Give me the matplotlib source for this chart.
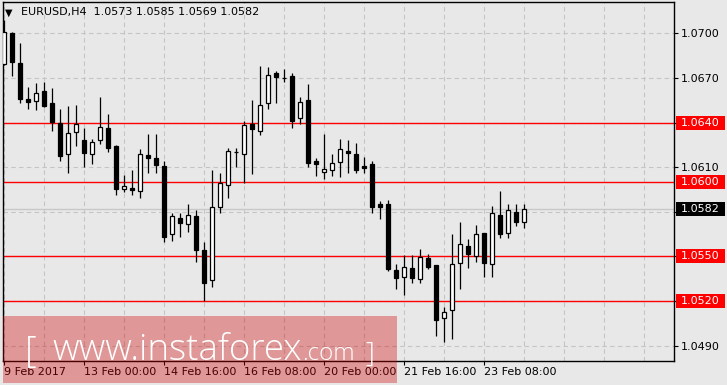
import matplotlib
matplotlib.use("Agg")
import matplotlib.pyplot as plt
from matplotlib.patches import Rectangle
import matplotlib.transforms as mtransforms

# ---------------- data ----------------
opens = [1.06792, 1.07000, 1.06802, 1.06556, 1.06547, 1.06614, 1.06529, 1.06399, 1.06187, 1.06338,
         1.06283, 1.06187, 1.06281, 1.06361, 1.06242, 1.05955, 1.05960, 1.05938, 1.06182, 1.06160,
         1.06106, 1.05649, 1.05758, 1.05716, 1.05770, 1.05543, 1.05340, 1.05834, 1.05978, 1.06200,
         1.06187, 1.06390, 1.06345, 1.06529, 1.06735, 1.06697, 1.06713, 1.06429, 1.06552, 1.06141,
         1.06066, 1.06079, 1.06137, 1.06209, 1.06189, 1.06108, 1.06121, 1.05853, 1.05851, 1.05409,
         1.05364, 1.05420, 1.05346, 1.05487, 1.05440, 1.05088, 1.05138, 1.05458, 1.05568, 1.05505,
         1.05656, 1.05447, 1.05777, 1.05656, 1.05799, 1.05730]
highs = [1.07089, 1.07007, 1.06933, 1.06637, 1.06664, 1.06675, 1.06630, 1.06489, 1.06511, 1.06518,
         1.06361, 1.06290, 1.06574, 1.06457, 1.06250, 1.06047, 1.06081, 1.06220, 1.06323, 1.06323,
         1.06142, 1.05794, 1.05794, 1.05850, 1.05812, 1.05599, 1.06081, 1.06063, 1.06232, 1.06232,
         1.06410, 1.06552, 1.06780, 1.06775, 1.06747, 1.06760, 1.06735, 1.06574, 1.06657, 1.06160,
         1.06323, 1.06189, 1.06290, 1.06283, 1.06263, 1.06168, 1.06142, 1.05873, 1.05879, 1.05450,
         1.05510, 1.05510, 1.05550, 1.05519, 1.05445, 1.05158, 1.05649, 1.05731, 1.05616, 1.05711,
         1.05660, 1.05839, 1.05940, 1.05853, 1.05853, 1.05850]
lows = [1.06787, 1.06715, 1.06529, 1.06493, 1.06484, 1.06502, 1.06345, 1.06144, 1.06063, 1.06244,
        1.06103, 1.06121, 1.06258, 1.06200, 1.05911, 1.05935, 1.05911, 1.05895, 1.06059, 1.06063,
        1.05599, 1.05606, 1.05633, 1.05666, 1.05465, 1.05200, 1.05297, 1.05794, 1.05895, 1.06103,
        1.05992, 1.06057, 1.06316, 1.06489, 1.06529, 1.06675, 1.06361, 1.06388, 1.06103, 1.06043,
        1.06019, 1.06043, 1.06036, 1.06059, 1.06059, 1.06063, 1.05794, 1.05754, 1.05404, 1.05283,
        1.05243, 1.05323, 1.05323, 1.05418, 1.04967, 1.04927, 1.04947, 1.05283, 1.05424, 1.05465,
        1.05364, 1.05364, 1.05627, 1.05627, 1.05707, 1.05690]
closes = [1.07007, 1.06805, 1.06556, 1.06536, 1.06597, 1.06511, 1.06406, 1.06177, 1.06328, 1.06390,
          1.06197, 1.06267, 1.06368, 1.06227, 1.05951, 1.05971, 1.05949, 1.06187, 1.06164, 1.06117,
          1.05633, 1.05770, 1.05727, 1.05777, 1.05545, 1.05324, 1.05830, 1.05992, 1.06207, 1.06200,
          1.06382, 1.06359, 1.06516, 1.06718, 1.06708, 1.06697, 1.06412, 1.06536, 1.06126, 1.06123,
          1.06086, 1.06126, 1.06220, 1.06197, 1.06081, 1.06097, 1.05834, 1.05834, 1.05418, 1.05358,
          1.05427, 1.05358, 1.05498, 1.05427, 1.05075, 1.05129, 1.05447, 1.05582, 1.05518, 1.05649,
          1.05458, 1.05790, 1.05649, 1.05810, 1.05734, 1.05820]

x_tick_bars = [0, 10, 20, 30, 40, 50, 60]
x_tick_labels = ["9 Feb 2017", "13 Feb 00:00", "14 Feb 16:00", "16 Feb 08:00",
                 "20 Feb 00:00", "21 Feb 16:00", "23 Feb 08:00"]
y_ticks = [1.0700, 1.0670, 1.0640, 1.0610, 1.0580, 1.0550, 1.0520, 1.0490]
# labels hidden behind the price boxes are left empty
y_tick_labels = ["1.0700", "1.0670", "", "1.0610", "", "", "", "1.0490"]
levels = [1.0640, 1.0600, 1.0550, 1.0520]
level_labels = ["1.0640", "1.0600", "1.0550", "1.0520"]
current_price = 1.0582
current_label = "1.0582"
title_text = "EURUSD,H4  1.0573 1.0585 1.0569 1.0582"

# ---------------- figure ----------------
W, H = 727, 385
BG = "#e8e8e8"
fig = plt.figure(figsize=(W / 100, H / 100), dpi=100, facecolor=BG)
ax = fig.add_axes([3 / W, (H - 361) / H, 671 / W, 359 / H])
ax.set_facecolor(BG)
ax.set_xlim(-0.08, 83.8)
ax.set_ylim(1.04797, 1.07210)

# grid
for gx in range(0, 84, 5):
    ax.axvline(gx, color="#c4c4c4", lw=0.8, ls=(0, (4, 3)), zorder=0.5)
for gy in y_ticks:
    ax.axhline(gy, color="#c4c4c4", lw=0.8, ls=(0, (4, 3)), zorder=0.5)

# current price line
ax.axhline(current_price, color="#c8c8c8", lw=1.0, zorder=0.6)

# level lines
for lv in levels:
    ax.axhline(lv, color="#ff0000", lw=1.0, zorder=1)

# candles
n = len(opens)
xs = list(range(n))
ax.vlines(xs, lows, highs, color="black", lw=0.9, zorder=2)
bottoms = [min(o, c) for o, c in zip(opens, closes)]
heights = [abs(c - o) for o, c in zip(opens, closes)]
fills = ["white" if c >= o else "black" for o, c in zip(opens, closes)]
ax.bar(xs, heights, bottom=bottoms, width=0.5, color=fills, edgecolor="black",
       linewidth=0.9, zorder=3)

# axes styling
for s in ax.spines.values():
    s.set_color("black")
    s.set_linewidth(1.0)
ax.yaxis.tick_right()
ax.set_yticks(y_ticks)
ax.set_yticklabels(y_tick_labels)
ax.set_xticks(x_tick_bars)
ax.set_xticklabels(x_tick_labels, ha="left")
ax.tick_params(axis="x", direction="out", length=3, width=0.8, pad=1.5,
               labelsize=8, colors="black")
ax.tick_params(axis="y", direction="out", length=3, width=0.8, pad=2,
               labelsize=8, colors="black")
for t in ax.get_xticklabels() + ax.get_yticklabels():
    t.set_fontfamily("DejaVu Sans")

# price boxes on the right
bt = mtransforms.blended_transform_factory(fig.transFigure, ax.transData)
box_h = 14 / 14876.0
for lv, lab in zip(levels, level_labels):
    ax.add_patch(Rectangle((676 / W, lv - box_h / 2), 49 / W, box_h, transform=bt,
                           facecolor="#ff0000", edgecolor="none", clip_on=False, zorder=5))
    ax.text(700 / W, lv, lab, transform=bt, color="white", fontsize=8,
            ha="center", va="center", zorder=6, clip_on=False)
ax.add_patch(Rectangle((676 / W, current_price - box_h / 2), 49 / W, box_h, transform=bt,
                       facecolor="black", edgecolor="none", clip_on=False, zorder=5))
ax.text(700 / W, current_price, current_label, transform=bt, color="white", fontsize=8,
        ha="center", va="center", zorder=6, clip_on=False)

# title
fig.text(5 / W, 1 - 12.5 / H, "\u25bc", fontsize=7, color="black", ha="left", va="center")
fig.text(21 / W, 1 - 12.5 / H, title_text, fontsize=8, color="black", ha="left", va="center")

# watermark
fig.patches.append(Rectangle((3 / W, (H - 383) / H), 394 / W, 67 / H, transform=fig.transFigure,
                             facecolor=(209 / 255, 0, 0), alpha=0.35, edgecolor="none", zorder=10))
wm_font = ["Open Sans", "DejaVu Sans"]
fig.text(25 / W, (H - 362) / H, "[", fontsize=26, color="white", family=wm_font,
         weight="light", ha="left", va="baseline", zorder=11)
fig.text(52 / W, (H - 360) / H, "www.instaforex", fontsize=26.5, color="white", family=wm_font,
         weight="light", ha="left", va="baseline", zorder=11)
fig.text(302 / W, (H - 360) / H, ".com", fontsize=17.5, color="white", family=wm_font,
         weight="light", ha="left", va="baseline", zorder=11)
fig.text(365 / W, (H - 362) / H, "]", fontsize=20, color="white", family=wm_font,
         weight="light", ha="left", va="baseline", zorder=11)

fig.savefig("out.png", dpi=100, facecolor=BG)
